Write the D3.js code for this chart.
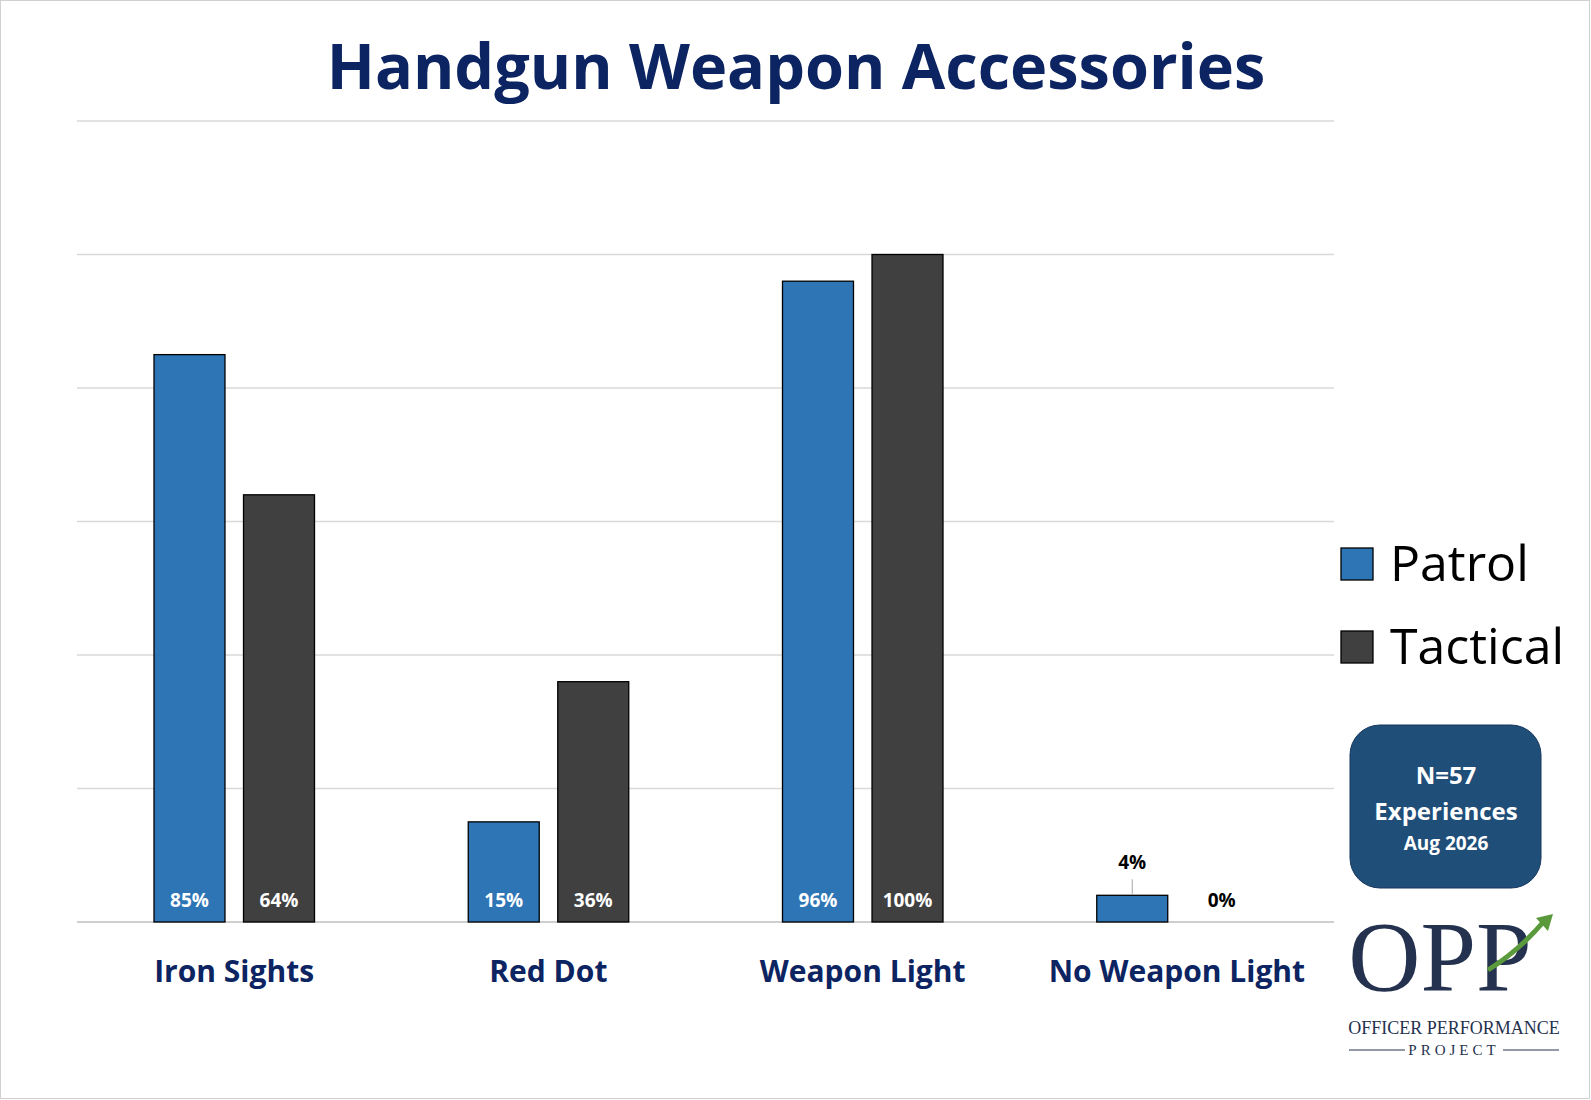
<!DOCTYPE html><html><head><meta charset="utf-8"><script src="https://cdn.jsdelivr.net/npm/d3@7"></script>
<style>body{margin:0;background:#fff}svg{display:block}</style></head><body><svg id="c" width="1591" height="1100"></svg>
<script>
const categories=["Iron Sights","Red Dot","Weapon Light","No Weapon Light"];
const patrol=[85,15,96,4];
const tactical=[64,36,100,0];
const seriesNames=["Patrol","Tactical"];
const colors=["#2e75b6","#404040"];
const ticks=[0,20,40,60,80,100,120];
const svg=d3.select("#c");
const F="'Open Sans', sans-serif";
svg.append("rect").attr("x",0.5).attr("y",0.5).attr("width",1589).attr("height",1098).attr("fill","#fff").attr("stroke","#d0d0d0");
const y=d3.scaleLinear().domain([0,120]).range([922,121]);
const x=d3.scaleBand().domain(categories).range([77,1334]);
const xs=d3.scaleBand().domain(seriesNames).range([77,237.5]).paddingInner(0.207);
svg.append("g").selectAll("line").data(ticks).join("line").attr("x1",77).attr("x2",1334).attr("y1",d=>y(d)).attr("y2",d=>y(d)).attr("stroke",d=>d===0?"#bfbfbf":"#d9d9d9").attr("stroke-width",1.5);
svg.append("text").attr("x",796).attr("y",89).attr("text-anchor","middle").attr("font-family",F).attr("font-weight",700).attr("font-size",63).attr("fill","#0c2461").text("Handgun Weapon Accessories");
const data=[patrol,tactical];
data.forEach((vals,si)=>{
  const g=svg.append("g");
  vals.forEach((v,i)=>{
    const bx=x(categories[i])+xs(seriesNames[si]),bw=xs.bandwidth();
    if(v>0)g.append("rect").attr("x",bx).attr("y",y(v)).attr("width",bw).attr("height",y(0)-y(v)).attr("fill",colors[si]).attr("stroke","#000").attr("stroke-width",1.3);
    if(v>=10){
      g.append("text").attr("x",bx+bw/2).attr("y",y(0)-15).attr("text-anchor","middle").attr("font-family",F).attr("font-weight",700).attr("font-size",19).attr("fill","#fff").text(v+"%");
    }else if(v>0){
      g.append("line").attr("x1",bx+bw/2).attr("x2",bx+bw/2).attr("y1",y(v)-1).attr("y2",y(v)-16).attr("stroke","#a6a6a6");
      g.append("text").attr("x",bx+bw/2).attr("y",y(v)-26).attr("text-anchor","middle").attr("font-family",F).attr("font-weight",700).attr("font-size",19).attr("fill","#000").text(v+"%");
    }else{
      g.append("text").attr("x",bx+bw/2).attr("y",y(0)-15).attr("text-anchor","middle").attr("font-family",F).attr("font-weight",700).attr("font-size",19).attr("fill","#000").text(v+"%");
    }
  });
});
svg.append("g").selectAll("text").data(categories).join("text").attr("x",d=>x(d)+x.bandwidth()/2).attr("y",982).attr("text-anchor","middle").attr("font-family",F).attr("font-weight",700).attr("font-size",30).attr("fill","#0c2461").text(d=>d);
seriesNames.forEach((s,i)=>{
  const ly=548+i*83;
  svg.append("rect").attr("x",1341).attr("y",ly).attr("width",32).attr("height",32).attr("fill",colors[i]).attr("stroke","#000").attr("stroke-width",1.3);
  svg.append("text").attr("x",1390).attr("y",ly+33).attr("font-family",F).attr("font-size",50).attr("fill","#000").text(s);
});
svg.append("rect").attr("x",1350).attr("y",725).attr("width",191).attr("height",163).attr("rx",30).attr("fill","#1f4e79").attr("stroke","#17375e");
[["N=57",784,24],["Experiences",820,24],["Aug 2026",850,19]].forEach(([t,yy,fs])=>svg.append("text").attr("x",1446).attr("y",yy).attr("text-anchor","middle").attr("font-family",F).attr("font-weight",700).attr("font-size",fs).attr("fill","#fff").text(t));
svg.append("text").attr("x",1440).attr("y",990).attr("text-anchor","middle").attr("font-family","'Liberation Serif', serif").attr("font-size",100).attr("fill","#25324f").text("OPP");
svg.append("path").attr("d","M1488,970 Q1520,950 1545,920").attr("fill","none").attr("stroke","#5b9a3c").attr("stroke-width",5);
svg.append("path").attr("d","M1553,914 L1536,918 L1548,931 Z").attr("fill","#5b9a3c");
svg.append("text").attr("x",1454).attr("y",1034).attr("text-anchor","middle").attr("font-family","'Liberation Serif', serif").attr("font-size",18).attr("fill","#25324f").text("OFFICER PERFORMANCE");
svg.append("text").attr("x",1454).attr("y",1055).attr("text-anchor","middle").attr("font-family","'Liberation Serif', serif").attr("font-size",15).attr("letter-spacing",4).attr("fill","#25324f").text("PROJECT");
svg.append("line").attr("x1",1349).attr("x2",1405).attr("y1",1050).attr("y2",1050).attr("stroke","#25324f");
svg.append("line").attr("x1",1503).attr("x2",1559).attr("y1",1050).attr("y2",1050).attr("stroke","#25324f");
</script></body></html>
